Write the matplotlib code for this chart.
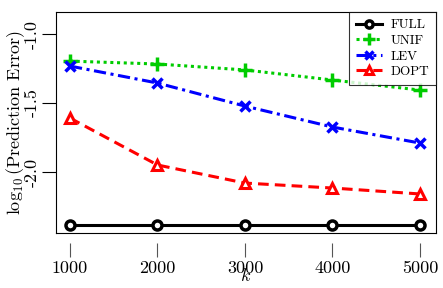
import matplotlib
matplotlib.use("Agg")
import matplotlib.pyplot as plt

k = [1000, 2000, 3000, 4000, 5000]
full = [-2.384, -2.384, -2.384, -2.384, -2.384]
unif = [-1.196, -1.217, -1.26, -1.333, -1.406]
lev = [-1.232, -1.355, -1.522, -1.674, -1.79]
dopt = [-1.609, -1.949, -2.08, -2.116, -2.159]
yticks = [-1.0, -1.5, -2.0]
ytick_labels = ["-1.0", "-1.5", "-2.0"]

plt.rcParams["font.family"] = "serif"
plt.rcParams["font.serif"] = ["cmr10", "DejaVu Serif"]
plt.rcParams["mathtext.fontset"] = "cm"
plt.rcParams["axes.unicode_minus"] = False

fig = plt.figure(figsize=(4.43, 2.88), dpi=100)
ax = fig.add_axes([56 / 443, 1 - 233 / 288, 380 / 443, 221 / 288])

ax.plot(k, full, color="black", lw=2.2, marker="o", ms=6.5, mfc="white", mew=2.5, label="FULL")
ax.plot(k, unif, color="#00cc00", lw=2.2, ls=(0, (1, 1.2)), marker="+", ms=10, mew=2.5, label="UNIF")
ax.plot(k, lev, color="#0000ff", lw=2.2, ls=(0, (4, 1.5, 1, 1.5)), marker="x", ms=7, mew=2.5, label="LEV")
ax.plot(k, dopt, color="#ff0000", lw=2.2, ls=(0, (3.5, 2)), marker="^", ms=7.5, mfc="white", mew=2.2, label="DOPT")

ax.set_xlim(840, 5183)
ax.set_ylim(-2.442, -0.84)
ax.set_yticks(yticks)
ax.set_yticklabels(ytick_labels, rotation=90, va="center", fontsize=13)
ax.tick_params(axis="y", direction="out", length=10, width=0.8, pad=2)
ax.set_xticks([])
ax.set_ylabel(r"$\log_{10}$(Prediction Error)", fontsize=13, labelpad=-2)

sec = ax.secondary_xaxis(-0.045)
sec.set_xticks(k)
sec.set_xticklabels([str(v) for v in k], fontsize=13)
sec.tick_params(direction="out", length=10, width=0.8, color="#555555", pad=3)
sec.spines["bottom"].set_visible(False)
sec.set_xlabel(r"$k$", fontsize=13, labelpad=-7)

for s in ax.spines.values():
    s.set_linewidth(0.8)

leg = ax.legend(loc="upper right", fontsize=9.5, frameon=True, fancybox=False,
                edgecolor="black", borderaxespad=0, handlelength=2.0,
                handletextpad=0.6, labelspacing=0.25, borderpad=0.55, markerscale=0.8)
leg.get_frame().set_linewidth(0.8)

fig.savefig("out.png", dpi=100)
